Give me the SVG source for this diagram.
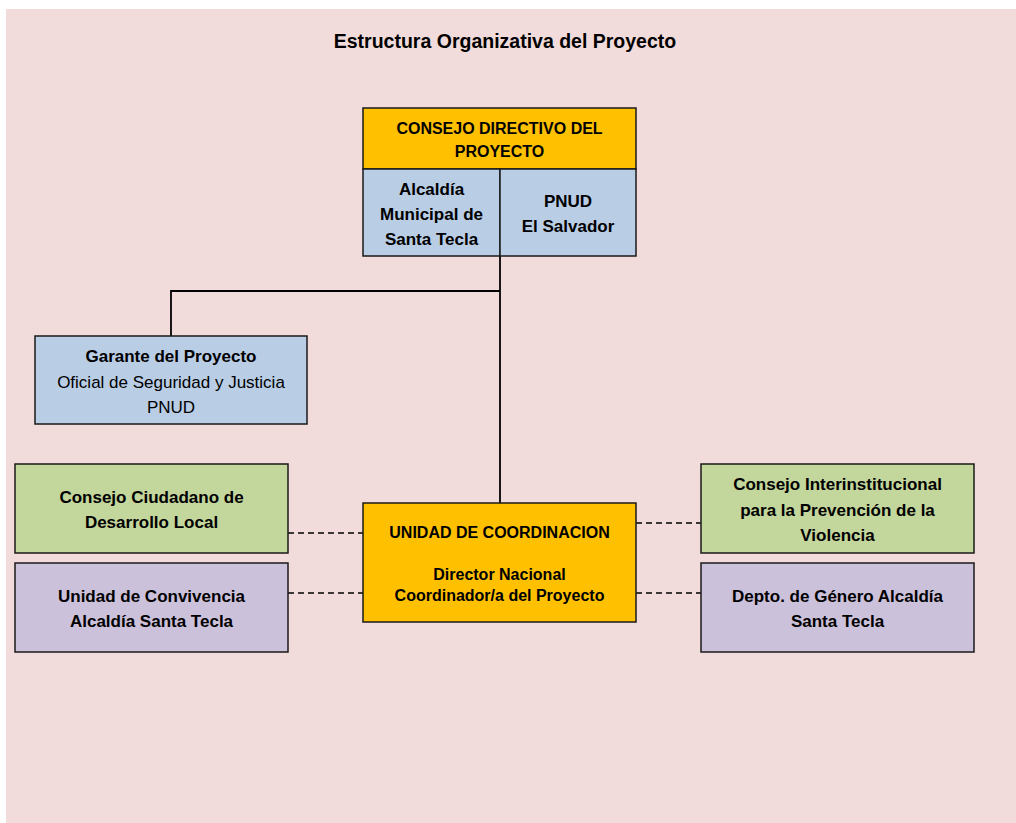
<svg xmlns="http://www.w3.org/2000/svg" width="1016" height="823" viewBox="0 0 1016 823">
<style>
.box{stroke:#1a1a1a;stroke-width:1.5}
.yel{fill:#FFC000}.blu{fill:#B9CDE5}.grn{fill:#C3D69B}.pur{fill:#CCC1DA}
text{font-family:"Liberation Sans",Arial,sans-serif;font-size:17px;fill:#000;text-anchor:middle}
.b{font-weight:bold}
.s{font-size:16px}
.title{font-size:19.5px;font-weight:bold}
.con{stroke:#000;stroke-width:1.8;fill:none}
.dash{stroke:#000;stroke-width:1.3;stroke-dasharray:6,4;fill:none}
</style>
<rect x="0" y="0" width="1016" height="823" fill="#ffffff"/>
<rect x="6" y="9" width="1010" height="814" fill="#F2DCDB"/>
<text class="title" x="505" y="48">Estructura Organizativa del Proyecto</text>
<g id="connectors">
<path class="con" d="M500 256 V503"/>
<path class="con" d="M500 291 H171 V336"/>
<path class="dash" d="M288 533 H363"/>
<path class="dash" d="M288 593 H363"/>
<path class="dash" d="M636 523 H701"/>
<path class="dash" d="M636 593 H701"/>
</g>
<g id="consejo-directivo">
<rect class="box yel" x="363" y="108" width="273" height="61"/>
<text class="b s" x="499.5" y="134">CONSEJO DIRECTIVO DEL</text>
<text class="b s" x="499.5" y="157">PROYECTO</text>
<rect class="box blu" x="363" y="169" width="137" height="87"/>
<rect class="box blu" x="500" y="169" width="136" height="87"/>
<text class="b" x="431.5" y="195">Alcaldía</text>
<text class="b" x="431.5" y="220">Municipal de</text>
<text class="b" x="431.5" y="245">Santa Tecla</text>
<text class="b" x="568" y="207">PNUD</text>
<text class="b" x="568" y="232">El Salvador</text>
</g>
<g id="garante">
<rect class="box blu" x="35" y="336" width="272" height="88"/>
<text class="b" x="171" y="362">Garante del Proyecto</text>
<text x="171" y="388">Oficial de Seguridad y Justicia</text>
<text x="171" y="413">PNUD</text>
</g>
<g id="consejo-ciudadano">
<rect class="box grn" x="15" y="464" width="273" height="89"/>
<text class="b" x="151.5" y="503">Consejo Ciudadano de</text>
<text class="b" x="151.5" y="528">Desarrollo Local</text>
</g>
<g id="unidad-convivencia">
<rect class="box pur" x="15" y="563" width="273" height="89"/>
<text class="b" x="151.5" y="602">Unidad de Convivencia</text>
<text class="b" x="151.5" y="627">Alcaldía Santa Tecla</text>
</g>
<g id="unidad-coordinacion">
<rect class="box yel" x="363" y="503" width="273" height="119"/>
<text class="b s" x="499.5" y="538">UNIDAD DE COORDINACION</text>
<text class="b s" x="499.5" y="580">Director Nacional</text>
<text class="b s" x="499.5" y="601">Coordinador/a del Proyecto</text>
</g>
<g id="consejo-interinstitucional">
<rect class="box grn" x="701" y="464" width="273" height="89"/>
<text class="b" x="837.5" y="490">Consejo Interinstitucional</text>
<text class="b" x="837.5" y="516">para la Prevención de la</text>
<text class="b" x="837.5" y="541">Violencia</text>
</g>
<g id="depto-genero">
<rect class="box pur" x="701" y="563" width="273" height="89"/>
<text class="b" x="837.5" y="602">Depto. de Género Alcaldía</text>
<text class="b" x="837.5" y="627">Santa Tecla</text>
</g>
</svg>
